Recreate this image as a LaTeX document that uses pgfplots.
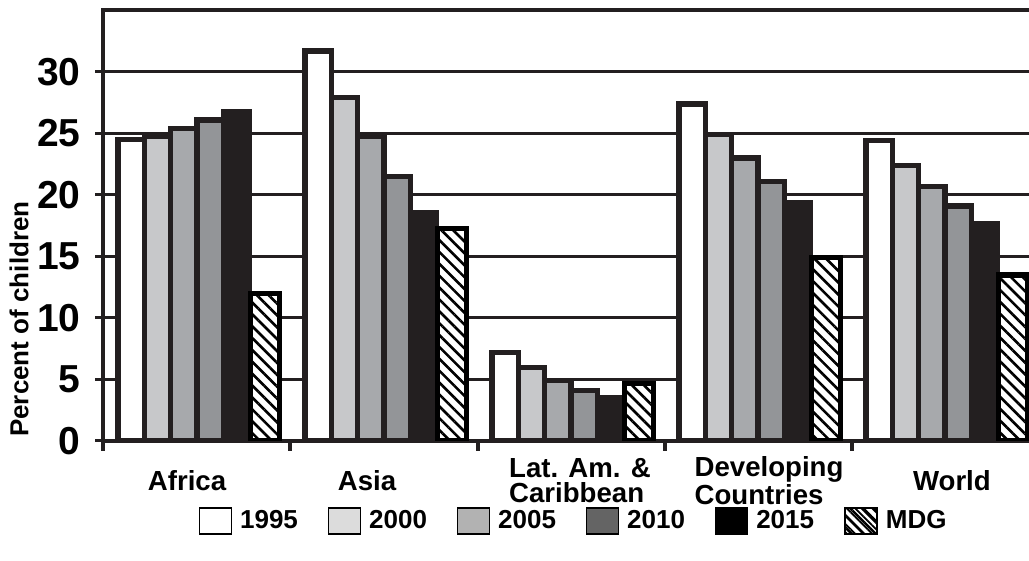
\documentclass[border=0pt]{standalone}
\usepackage{pgfplots}
\pgfplotsset{compat=1.18}
\usepackage{fontspec}
\setmainfont{Liberation Sans}
\usetikzlibrary{patterns.meta}
\definecolor{dk}{HTML}{231F20}
\definecolor{gA}{HTML}{C7C8CA}
\definecolor{gB}{HTML}{A7A9AC}
\definecolor{gC}{HTML}{939598}
\definecolor{lA}{HTML}{DCDCDC}
\definecolor{lB}{HTML}{B2B2B2}
\definecolor{lC}{HTML}{646464}
\begin{document}
\begin{tikzpicture}
\begin{axis}[
  at={(0,0)}, anchor=south west,
  scale only axis,
  width=467.5pt, height=215.25pt,
  xmin=-0.5, xmax=4.5, ymin=0, ymax=35,
  ybar=0pt, bar width=13.15pt,
  axis line style={line width=2pt, color=dk},
  tick pos=left, tick align=outside,
  xtick={-0.053,0.909,2.048,3.059,4.037},
  xticklabels={Africa,Asia,{Lat. Am. \&\\Caribbean},{Developing\\Countries},World},
  major x tick style={draw=none},
  minor xtick={-0.5,0.5,1.5,2.5,3.5},
  minor x tick style={line width=2pt, color=dk},
  minor tick length=5pt,
  xticklabel style={font=\fontsize{13.8}{12.5}\selectfont\bfseries, align=left, anchor=center, yshift=-16pt},
  ytick={0,5,...,30},
  major y tick style={line width=1.5pt, color=dk},
  major tick length=4pt,
  yticklabel style={font=\fontsize{19.5}{19.5}\selectfont\bfseries, xshift=-4pt},
  /pgf/number format/assume math mode=true,
  ymajorgrids, grid style={line width=1.5pt, color=dk},
  ylabel={Percent of children},
  ylabel style={font=\fontsize{13}{13}\selectfont\bfseries, at={(axis description cs:-0.0904,0.283)}, anchor=center},
  legend columns=6,
  legend style={draw=none, fill=none, at={(axis description cs:0.504,-0.186)}, anchor=center,
    font=\fontsize{13}{13}\selectfont\bfseries,
    /tikz/every odd column/.append style={column sep=2pt},
    /tikz/every even column/.append style={column sep=13pt},
    legend cell align=left, inner sep=0pt},
  every axis plot/.append style={draw=dk, line width=2.6pt},
]
\addplot[bar shift=-32.9pt, fill=white,
  legend image code/.code={\draw[line width=0.6pt, draw=black, fill=white] (0pt,-6.5pt) rectangle (16pt,6.5pt);}]
  coordinates {(0,24.5) (1,31.7) (2,7.2) (3,27.4) (4,24.4)};
\addplot[bar shift=-19.7pt, fill=gA,
  legend image code/.code={\draw[line width=0.6pt, draw=black, fill=lA] (0pt,-6.5pt) rectangle (16pt,6.5pt);}]
  coordinates {(0,24.8) (1,27.9) (2,6.0) (3,24.9) (4,22.4)};
\addplot[bar shift=-6.6pt, fill=gB,
  legend image code/.code={\draw[line width=0.6pt, draw=black, fill=lB] (0pt,-6.5pt) rectangle (16pt,6.5pt);}]
  coordinates {(0,25.4) (1,24.8) (2,4.9) (3,23.0) (4,20.7)};
\addplot[bar shift=6.6pt, fill=gC,
  legend image code/.code={\draw[line width=0.6pt, draw=black, fill=lC] (0pt,-6.5pt) rectangle (16pt,6.5pt);}]
  coordinates {(0,26.1) (1,21.5) (2,4.1) (3,21.1) (4,19.1)};
\addplot[bar shift=19.7pt, fill=dk,
  legend image code/.code={\draw[line width=0.6pt, draw=black, fill=black] (0pt,-6.5pt) rectangle (16pt,6.5pt);}]
  coordinates {(0,26.8) (1,18.6) (2,3.5) (3,19.4) (4,17.7)};
\addplot[bar shift=34pt, bar width=14.5pt, draw=black, fill=white,
  postaction={pattern={Lines[angle=-45,distance=4.2pt,line width=1.3pt]}},
  legend image code/.code={\draw[line width=0.6pt, draw=black, fill=white, postaction={pattern={Lines[angle=-45,distance=3pt,line width=0.9pt]}}] (0pt,-6.5pt) rectangle (16pt,6.5pt);}]
  coordinates {(0,12.0) (1,17.3) (2,4.7) (3,14.9) (4,13.5)};
\legend{1995,2000,2005,2010,2015,MDG}
\end{axis}
\pgfresetboundingbox
\useasboundingbox (-51.75pt,-60pt) rectangle (462.75pt,220.5pt);
\end{tikzpicture}
\end{document}
